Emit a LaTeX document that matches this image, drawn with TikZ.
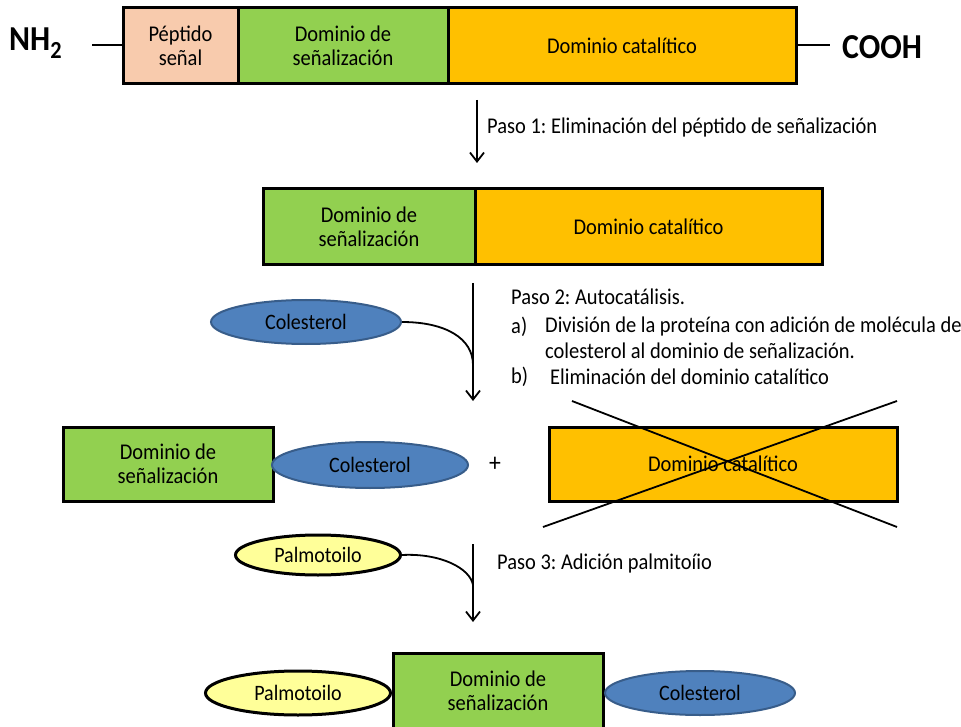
\documentclass[tikz,border=0pt]{standalone}
\usepackage{fontspec}
\setmainfont{Carlito}[FakeStretch=0.91]
\usetikzlibrary{arrows.meta,shapes.geometric}
\definecolor{peach}{RGB}{248,203,173}
\definecolor{grn}{RGB}{146,208,80}
\definecolor{orng}{RGB}{255,192,0}
\definecolor{blu}{RGB}{79,129,189}
\definecolor{bluB}{RGB}{56,93,138}
\definecolor{yel}{RGB}{255,255,153}
\tikzset{
  fnt/.style={font=\fontsize{22.5}{24.5}\selectfont},
  ofnt/.style={font=\fontsize{22}{24}\selectfont},
  box/.style={draw=black, line width=3pt, minimum height=76pt, inner sep=0pt, align=center, fnt},
  ovB/.style={ellipse, draw=bluB, line width=2pt, fill=blu, inner sep=0pt, ofnt},
  ovY/.style={ellipse, draw=black, line width=3pt, fill=yel, inner sep=0pt, ofnt},
  txt/.style={anchor=west, inner sep=0pt, fnt},
  arr/.style={line width=1.8pt, -{Straight Barb[length=9pt,width=14pt,line width=1.8pt]}},
  ln/.style={line width=1.8pt},
}
\begin{document}
\frenchspacing
\begin{tikzpicture}[x=1pt,y=-1pt]
\useasboundingbox (0,0) rectangle (961,727);
% row 1
\node[box, fill=peach, minimum width=115pt] (p1) at (180.5,46) {Péptido\\señal};
\node[box, fill=grn, minimum width=210pt] (s1) at (343,46) {Dominio de\\señalización};
\node[box, fill=orng, minimum width=348pt] (c1) at (622,46) {Dominio catalítico};
\node[inner sep=0pt, anchor=west, font=\fontsize{35}{38}\selectfont\bfseries] (nh) at (9,43) {NH\textsubscript{2}};
\node[inner sep=0pt, anchor=west, font=\fontsize{35}{38}\selectfont\bfseries] (co) at (842,47) {COOH};
\coordinate (nhl) at (92,45);
\coordinate (col) at (830,45);
\draw[ln] (nhl) -- (p1.west |- nhl);
\draw[ln] (c1.east |- col) -- (col);
% arrow 1
\coordinate (a1s) at (477,100);
\coordinate (a1e) at (477,163);
\draw[arr] (a1s) -- (a1e);
\node[txt] (t1) at (487,128) {Paso 1: Eliminación del péptido de señalización};
% row 2
\node[box, fill=grn, minimum width=212pt] (s2) at (369,227) {Dominio de\\señalización};
\node[box, fill=orng, minimum width=347pt] (c2) at (648.5,227) {Dominio catalítico};
% arrow 2
\coordinate (a2s) at (473,283);
\coordinate (a2m) at (473,365);
\coordinate (a2e) at (473,401);
\draw[arr] (a2s) -- (a2e);
\node[ovB, minimum width=190pt, minimum height=44pt] (ch1) at (306,322) {Colesterol};
\draw[ln] (ch1.east) .. controls (445,322) and (473,338) .. (a2m);
\node[txt] (t2) at (511,297) {Paso 2: Autocatálisis.};
\node[txt] (t2a) at (511,327) {a)};
\node[txt] (t2a1) at (545,327) {División de la proteína con adición de molécula de};
\node[txt] (t2a2) at (545,351) {colesterol al dominio de señalización.};
\node[txt] (t2b) at (511,377) {b)};
\node[txt] (t2b1) at (550,377) {Eliminación del dominio catalítico};
% row 3
\node[box, fill=grn, minimum width=210pt, minimum height=74pt] (s3) at (168,464) {Dominio de\\señalización};
\node[ovB, minimum width=196pt, minimum height=46pt] (ch2) at (370,465) {Colesterol};
\node[inner sep=0pt, font=\fontsize{26}{28}\selectfont] (plus) at (495,464) {+};
\node[box, fill=orng, minimum width=348pt, minimum height=74pt] (c3) at (723,464) {Dominio catalítico};
\coordinate (x1) at (572,401);
\coordinate (x2) at (897,527);
\coordinate (x3) at (543,527);
\coordinate (x4) at (897,401);
\draw[ln] (x1) -- (x2);
\draw[ln] (x3) -- (x4);
% arrow 3
\coordinate (a3s) at (473,544);
\coordinate (a3m) at (473,585);
\coordinate (a3e) at (473,622);
\draw[arr] (a3s) -- (a3e);
\node[ovY, minimum width=165pt, minimum height=40pt] (pa1) at (318,555) {Palmotoilo};
\draw[ln] (pa1.east) .. controls (440,553) and (470,568) .. (a3m);
\node[txt] (t3) at (497,563) {Paso 3: Adición palmitoíio};
% row 4
\node[box, fill=grn, minimum width=210pt, minimum height=76pt] (s4) at (498,691) {Dominio de\\señalización};
\node[ovY, minimum width=185pt, minimum height=44pt] (pa2) at (298,693) {Palmotoilo};
\node[ovB, minimum width=190pt, minimum height=44pt] (ch3) at (700,693) {Colesterol};
\end{tikzpicture}
\end{document}
